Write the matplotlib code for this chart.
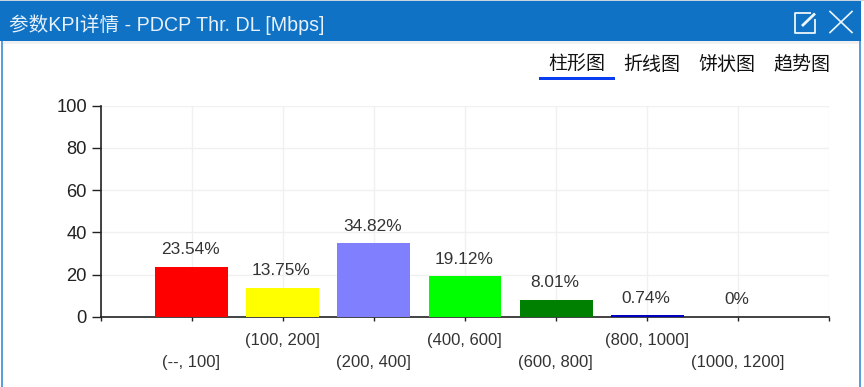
import matplotlib
matplotlib.use("Agg")
import matplotlib.pyplot as plt
from matplotlib.patches import Rectangle

plt.rcParams['font.family'] = ['Liberation Sans', 'Noto Sans CJK SC', 'DejaVu Sans']

categories = ['(--, 100]', '(100, 200]', '(200, 400]', '(400, 600]', '(600, 800]', '(800, 1000]', '(1000, 1200]']
values = [23.54, 13.75, 34.82, 19.12, 8.01, 0.74, 0]
value_labels = ['23.54%', '13.75%', '34.82%', '19.12%', '8.01%', '0.74%', '0%']
colors = ['#ff0000', '#ffff00', '#8080ff', '#00ff00', '#008000', '#0000c0', '#000080']
y_ticks = [0, 20, 40, 60, 80, 100]
tabs = ['柱形图', '折线图', '饼状图', '趋势图']
title = '参数KPI详情 - PDCP Thr. DL [Mbps]'

W, H = 864, 387
fig = plt.figure(figsize=(W / 100, H / 100), dpi=100, facecolor='white')

# window chrome, in pixel coordinates
ui = fig.add_axes([0, 0, 1, 1], zorder=0)
ui.set_xlim(0, W)
ui.set_ylim(H, 0)
ui.axis('off')
BLUE = '#0f72c5'
ui.add_patch(Rectangle((0, 0), W, 1.2, color='#c9d6e2', lw=0))
ui.add_patch(Rectangle((0, 1.2), 861, 39.8, color=BLUE, lw=0))
ui.add_patch(Rectangle((3, 41), 856, 3, color='#f0f0f0', lw=0))
ui.add_patch(Rectangle((0.5, 41), 2.5, H, color='#5a9fdc', lw=0))
ui.add_patch(Rectangle((859, 41), 2, H, color='#5a9fdc', lw=0))
ui.text(9, 24.5, title, color='#e6f1fa', fontsize=14.1, va='center', ha='left')

# edit icon
ic = '#eef6fc'
ui.plot([811, 795, 795, 815, 815], [13, 13, 32.5, 32.5, 19], color=ic, lw=1.3, solid_capstyle='butt')
ui.plot([802, 815], [26, 13.5], color=ic, lw=2.0, solid_capstyle='butt')
# close icon
ui.plot([830, 852], [11.5, 32.5], color=ic, lw=1.2)
ui.plot([830, 852], [32.5, 11.5], color=ic, lw=1.2)

# tabs
for label, cx in zip(tabs, [577, 652, 727, 802]):
    ui.text(cx, 65, label, color='#111111', fontsize=13.7, ha='center', va='center')
ui.add_patch(Rectangle((539.3, 76.7), 75.4, 3, color='#0a3cf0', lw=0))

# chart
x0, x1, y0, y1 = 100.7, 829.3, 316.8, 105.5
ax = fig.add_axes([x0 / W, 1 - y0 / H, (x1 - x0) / W, (y0 - y1) / H], zorder=1)
ax.patch.set_alpha(0)
positions = list(range(1, len(categories) + 1))
ax.bar(positions, values, width=0.8, color=colors, zorder=3)
ax.set_xlim(0, len(categories) + 1)
ax.set_ylim(0, 100)
ax.set_xticks(range(0, len(categories) + 2))
ax.set_xticklabels([])
ax.set_yticks(y_ticks)
ax.tick_params(axis='y', labelsize=13.2, length=6.5, width=1, color='#222222', labelcolor='#222222', pad=3.5)
ax.tick_params(axis='x', length=3, width=1, color='#222222')
ax.grid(True, color='#f0f0f0', lw=1, zorder=0)
ax.set_axisbelow(True)
for s in ['top', 'right']:
    ax.spines[s].set_visible(False)
for s in ['left', 'bottom']:
    ax.spines[s].set_color('#222222')
    ax.spines[s].set_linewidth(1.2)

# value labels
for p, v, t in zip(positions, values, value_labels):
    ax.annotate(t, (p, v), xytext=(-1.0, 7.0), textcoords='offset points', ha='center', va='bottom',
                fontsize=12.4, color='#333333')

# staggered category labels
for i, (p, c) in enumerate(zip(positions, categories)):
    off = -17 if i % 2 else -33.2
    ax.annotate(c, (p, 0), xytext=(-0.3, off), textcoords='offset points', ha='center', va='center',
                fontsize=12, color='#333333', annotation_clip=False)

fig.savefig('out.png', dpi=100)
